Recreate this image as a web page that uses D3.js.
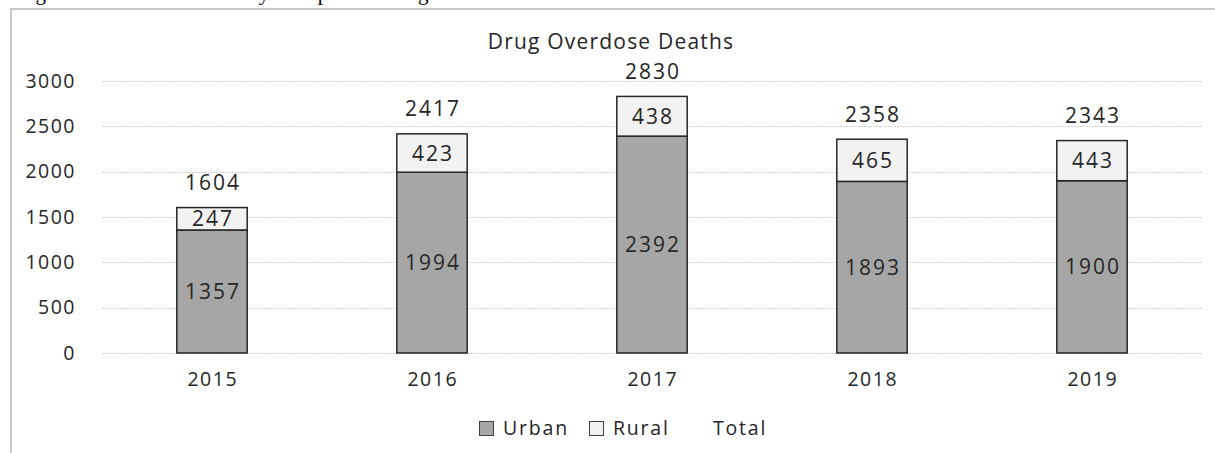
<!DOCTYPE html>
<html>
<head>
<meta charset="utf-8">
<script src="https://cdn.jsdelivr.net/npm/d3@7"></script>
<style>
  body { margin: 0; background: #fff; }
  svg text { font-family: "Open Sans", sans-serif; fill: #262626; }
</style>
</head>
<body>
<div id="chart"></div>
<script>
// data
var years = ['2015', '2016', '2017', '2018', '2019'];
var urban = [1357, 1994, 2392, 1893, 1900];
var rural = [247, 423, 438, 465, 443];
var total = [1604, 2417, 2830, 2358, 2343];
var yTicks = [0, 500, 1000, 1500, 2000, 2500, 3000];
var seriesNames = ['Urban', 'Rural', 'Total'];

var width = 1215, height = 453;
var svg = d3.select('#chart').append('svg').attr('width', width).attr('height', height);

// caption of the page above the chart, mostly cut off
svg.append('text')
  .attr('x', 18).attr('y', 0)
  .style('font-family', '"Liberation Serif", serif')
  .style('font-size', '21px')
  .style('fill', '#000')
  .text('Figure 3. Overdose Deaths by Group and Setting');

// chart frame
svg.append('rect')
  .attr('x', 11).attr('y', 9)
  .attr('width', 1220).attr('height', 460)
  .attr('fill', 'none')
  .attr('stroke', '#c8c8c8')
  .attr('stroke-width', 2);

var x = d3.scaleBand().domain(years).range([102, 1202]).paddingInner(0.68).paddingOuter(0.34);
var y = d3.scaleLinear().domain([0, 3000]).range([353, 81]);

// gridlines
svg.append('g').selectAll('line')
  .data(yTicks)
  .enter().append('line')
  .attr('x1', 102).attr('x2', 1202)
  .attr('y1', function (d) { return Math.round(y(d)) + 0.5; })
  .attr('y2', function (d) { return Math.round(y(d)) + 0.5; })
  .attr('stroke', '#d0d0d0')
  .attr('stroke-dasharray', '2,1');

// y axis labels
var yAxis = svg.append('g')
  .attr('transform', 'translate(84,0)')
  .call(d3.axisLeft(y).tickValues(yTicks).tickFormat(d3.format('d')).tickSize(0).tickPadding(8));
yAxis.select('.domain').remove();
yAxis.selectAll('text')
  .style('font-size', '19.5px')
  .style('letter-spacing', '1.5px')
  .style('font-family', '"Open Sans", sans-serif')
  .attr('fill', '#262626');

// x axis labels
var xAxis = svg.append('g')
  .attr('transform', 'translate(0,372)')
  .call(d3.axisBottom(x).tickSize(0).tickPadding(0));
xAxis.select('.domain').remove();
xAxis.selectAll('text')
  .style('font-size', '19.5px')
  .style('letter-spacing', '1.5px')
  .attr('dx', '0.75px')
  .style('font-family', '"Open Sans", sans-serif')
  .attr('fill', '#262626');

var table = years.map(function (yr, i) { return { year: yr, Urban: urban[i], Rural: rural[i] }; });
var stack = d3.stack().keys(['Urban', 'Rural'])(table);
var fills = { Urban: '#a6a6a6', Rural: '#f2f2f2' };

var layers = svg.append('g').selectAll('g')
  .data(stack)
  .enter().append('g')
  .attr('fill', function (d) { return fills[d.key]; });

layers.selectAll('rect')
  .data(function (d) { return d; })
  .enter().append('rect')
  .attr('x', function (d) { return x(d.data.year); })
  .attr('width', x.bandwidth())
  .attr('y', function (d) { return y(d[1]); })
  .attr('height', function (d) { return y(d[0]) - y(d[1]); })
  .attr('stroke', '#262626')
  .attr('stroke-width', 1.5);

// segment labels
layers.selectAll('text')
  .data(function (d) { return d; })
  .enter().append('text')
  .attr('x', function (d) { return x(d.data.year) + x.bandwidth() / 2 + 1; })
  .attr('y', function (d) { return (y(d[0]) + y(d[1])) / 2; })
  .attr('dy', '0.36em')
  .attr('text-anchor', 'middle')
  .style('font-size', '21px')
  .style('letter-spacing', '2px')
  .text(function (d) { return d[1] - d[0]; });

// totals above bars
svg.append('g').selectAll('text')
  .data(total)
  .enter().append('text')
  .attr('x', function (d, i) { return x(years[i]) + x.bandwidth() / 2 + 1; })
  .attr('y', function (d) { return y(d) - 25; })
  .attr('dy', '0.36em')
  .attr('text-anchor', 'middle')
  .style('font-size', '21px')
  .style('letter-spacing', '2px')
  .text(function (d) { return d; });

// title
svg.append('text')
  .attr('x', 611).attr('y', 41)
  .attr('dy', '0.36em')
  .attr('text-anchor', 'middle')
  .style('font-size', '21px')
  .style('letter-spacing', '1.2px')
  .text('Drug Overdose Deaths');

// legend
var legendX = [479, 589, 689];
var legend = svg.append('g').selectAll('g')
  .data(seriesNames)
  .enter().append('g')
  .attr('transform', function (d, i) { return 'translate(' + legendX[i] + ',421)'; });

legend.filter(function (d) { return d !== 'Total'; })
  .append('rect')
  .attr('x', 0.5).attr('y', 0.5)
  .attr('width', 14).attr('height', 14)
  .attr('fill', function (d) { return fills[d]; })
  .attr('stroke', '#404040');

legend.append('text')
  .attr('x', 24).attr('y', 7)
  .attr('dy', '0.36em')
  .style('font-size', '19.5px')
  .style('letter-spacing', '1.8px')
  .text(function (d) { return d; });
</script>
</body>
</html>
